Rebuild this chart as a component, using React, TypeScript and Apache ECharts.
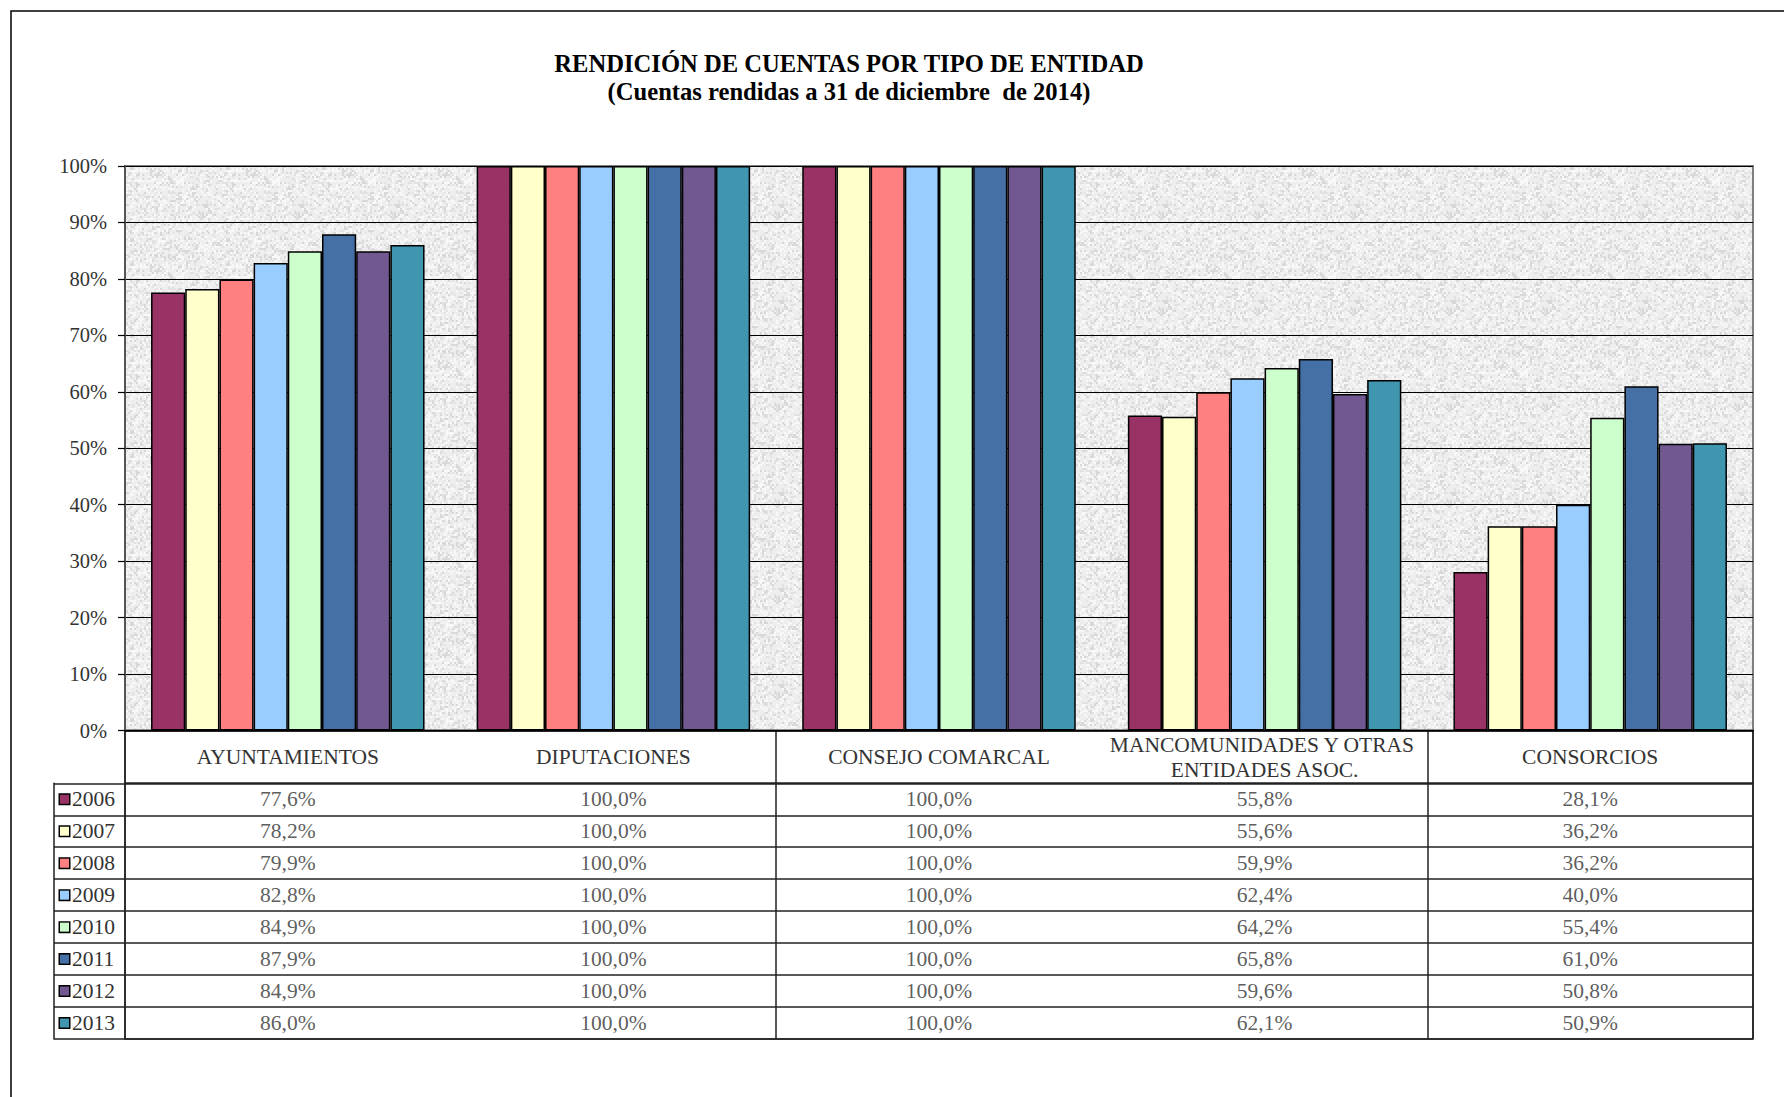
import React, { useEffect, useRef } from "react";
import * as echarts from "echarts";

const categories = [
  "AYUNTAMIENTOS",
  "DIPUTACIONES",
  "CONSEJO COMARCAL",
  "MANCOMUNIDADES Y OTRAS ENTIDADES ASOC.",
  "CONSORCIOS",
];
const years = ["2006", "2007", "2008", "2009", "2010", "2011", "2012", "2013"];
const v2006 = [77.6, 100, 100, 55.8, 28.1];
const v2007 = [78.2, 100, 100, 55.6, 36.2];
const v2008 = [79.9, 100, 100, 59.9, 36.2];
const v2009 = [82.8, 100, 100, 62.4, 40.0];
const v2010 = [84.9, 100, 100, 64.2, 55.4];
const v2011 = [87.9, 100, 100, 65.8, 61.0];
const v2012 = [84.9, 100, 100, 59.6, 50.8];
const v2013 = [86.0, 100, 100, 62.1, 50.9];
const seriesValues = [v2006, v2007, v2008, v2009, v2010, v2011, v2012, v2013];
const yTicks = [0, 10, 20, 30, 40, 50, 60, 70, 80, 90, 100];
const titleLine1 = "RENDICIÓN DE CUENTAS POR TIPO DE ENTIDAD";
const titleLine2 = "(Cuentas rendidas a 31 de diciembre  de 2014)";

const colors = [
  "#993366",
  "#FFFFCC",
  "#FF8080",
  "#99CCFF",
  "#CCFFCC",
  "#4470A6",
  "#725890",
  "#4196AF",
];

const FONT = '"Liberation Serif", "Times New Roman", serif';
const TABLE_FS = 21.5;

function makeTexture(): HTMLCanvasElement {
  const size = 96;
  const c = document.createElement("canvas");
  c.width = size;
  c.height = size;
  const ctx = c.getContext("2d")!;
  ctx.fillStyle = "#eeeeee";
  ctx.fillRect(0, 0, size, size);
  // deterministic speckle texture (decoration only)
  for (let y = 0; y < size; y += 2) {
    for (let x = 0; x < size; x += 2) {
      const h = Math.sin(x * 12.9898 + y * 78.233) * 43758.5453;
      const f = h - Math.floor(h);
      let g = 238;
      if (f < 0.15) g = 216;
      else if (f < 0.28) g = 226;
      else if (f > 0.78) g = 248;
      ctx.fillStyle = `rgb(${g},${g},${g})`;
      ctx.fillRect(x, y, 2, 2);
    }
  }
  return c;
}

const fmt = (v: number) => v.toFixed(1).replace(".", ",") + "%";

export default function App() {
  const ref = useRef<HTMLDivElement>(null);
  useEffect(() => {
    if (!ref.current) return;
    const chart = echarts.init(ref.current, null, { renderer: "svg" });
    const tex = makeTexture();

    const rich: any = {
      t: { fontFamily: FONT, fontSize: TABLE_FS, color: "#333", padding: [0, 0, 0, 3] },
    };
    years.forEach((y, i) => {
      rich["s" + i] = {
        width: 9,
        height: 9,
        backgroundColor: colors[i],
        borderColor: "#000",
        borderWidth: 1.5,
      };
    });

    const cellData: any[] = [];
    seriesValues.forEach((arr, yi) => {
      arr.forEach((v, ci) => cellData.push([ci, yi, v]));
    });

    const L = 125;
    const R = 31;
    const titleStyle = {
      fontFamily: FONT,
      fontSize: 24.6,
      fontWeight: "bold",
      color: "#000",
      lineHeight: 26,
    };

    chart.setOption({
      animation: false,
      backgroundColor: "#ffffff",
      title: [
        { text: titleLine1, left: 849, top: 50, textAlign: "center", padding: 0, textStyle: titleStyle },
        { text: titleLine2, left: 849, top: 78, textAlign: "center", padding: 0, textStyle: titleStyle },
      ],
      graphic: [
        {
          type: "rect",
          shape: { x: 11, y: 11, width: 1850, height: 1200 },
          style: { fill: "none", stroke: "#000", lineWidth: 1.5 },
          silent: true,
        },
      ],
      grid: [
        {
          left: L,
          right: R,
          top: 166,
          height: 564.5,
          show: true,
          backgroundColor: { image: tex, repeat: "repeat", imageWidth: 96, imageHeight: 96 } as any,
          borderColor: "#808080",
          borderWidth: 2,
        },
        {
          left: L,
          right: R,
          top: 730.5,
          height: 52.8,
          show: true,
          backgroundColor: "transparent",
          borderColor: "#222",
          borderWidth: 1.5,
        },
        {
          left: L,
          right: R,
          top: 783.3,
          height: 255.7,
          show: true,
          backgroundColor: "transparent",
          borderColor: "#222",
          borderWidth: 1.5,
        },
      ],
      xAxis: [
        {
          type: "category",
          gridIndex: 0,
          data: categories,
          axisLine: { show: true, lineStyle: { color: "#000", width: 1.5 } },
          axisTick: { show: false },
          axisLabel: {
            interval: 0,
            margin: 26.5,
            verticalAlign: "middle",
            fontFamily: FONT,
            fontSize: TABLE_FS,
            lineHeight: 25,
            color: "#333",
            width: 318,
            overflow: "break",
          },
          splitLine: { show: false },
          z: 10,
        },
        {
          type: "category",
          gridIndex: 1,
          data: categories,
          axisLine: { show: false },
          axisTick: { show: false },
          axisLabel: { show: false },
          splitLine: { show: true, lineStyle: { color: "#222", width: 1.5 } },
        },
        {
          type: "category",
          gridIndex: 2,
          data: categories,
          axisLine: { show: false },
          axisTick: { show: false },
          axisLabel: { show: false },
          splitLine: { show: true, lineStyle: { color: "#222", width: 1.5 } },
        },
      ],
      yAxis: [
        {
          type: "value",
          gridIndex: 0,
          min: yTicks[0],
          max: yTicks[yTicks.length - 1],
          interval: 10,
          axisLine: { show: true, lineStyle: { color: "#555", width: 2 } },
          axisTick: { show: true, length: 7, lineStyle: { color: "#000", width: 1.2 } },
          axisLabel: {
            margin: 18,
            formatter: "{value}%",
            fontFamily: FONT,
            fontSize: 20.5,
            color: "#333",
          },
          splitLine: { show: true, lineStyle: { color: "#000", width: 1.2 } },
        },
        {
          type: "value",
          gridIndex: 1,
          show: false,
        },
        {
          type: "category",
          gridIndex: 2,
          data: years,
          inverse: true,
          axisLine: { show: false },
          axisTick: { show: true, length: 71, lineStyle: { color: "#222", width: 1.5 } },
          axisLabel: {
            align: "left",
            margin: 65,
            formatter: (v: string) => `{s${years.indexOf(v)}|}{t|${v}}`,
            rich,
          },
          splitLine: { show: true, lineStyle: { color: "#222", width: 1.5 } },
        },
        {
          type: "category",
          gridIndex: 2,
          data: years,
          inverse: true,
          position: "left",
          offset: 71,
          axisLine: { show: true, lineStyle: { color: "#222", width: 1.5 } },
          axisTick: { show: false },
          axisLabel: { show: false },
          splitLine: { show: false },
        },
      ],
      series: [
        ...years.map((y, i) => ({
          name: y,
          type: "bar",
          xAxisIndex: 0,
          yAxisIndex: 0,
          data: seriesValues[i],
          barGap: "0%",
          barCategoryGap: "16%",
          itemStyle: { color: colors[i], borderColor: "#000", borderWidth: 1.5 },
        })),
        {
          type: "scatter",
          xAxisIndex: 2,
          yAxisIndex: 2,
          data: cellData,
          symbolSize: 1,
          itemStyle: { color: "transparent" },
          label: {
            show: true,
            position: "inside",
            formatter: (p: any) => fmt(p.value[2]),
            fontFamily: FONT,
            fontSize: TABLE_FS,
            color: "#333",
          },
        },
      ],
    });
    return () => chart.dispose();
  }, []);
  return (
    <div
      ref={ref}
      style={{ position: "fixed", left: 0, top: 0, width: 1784, height: 1097 }}
    />
  );
}
